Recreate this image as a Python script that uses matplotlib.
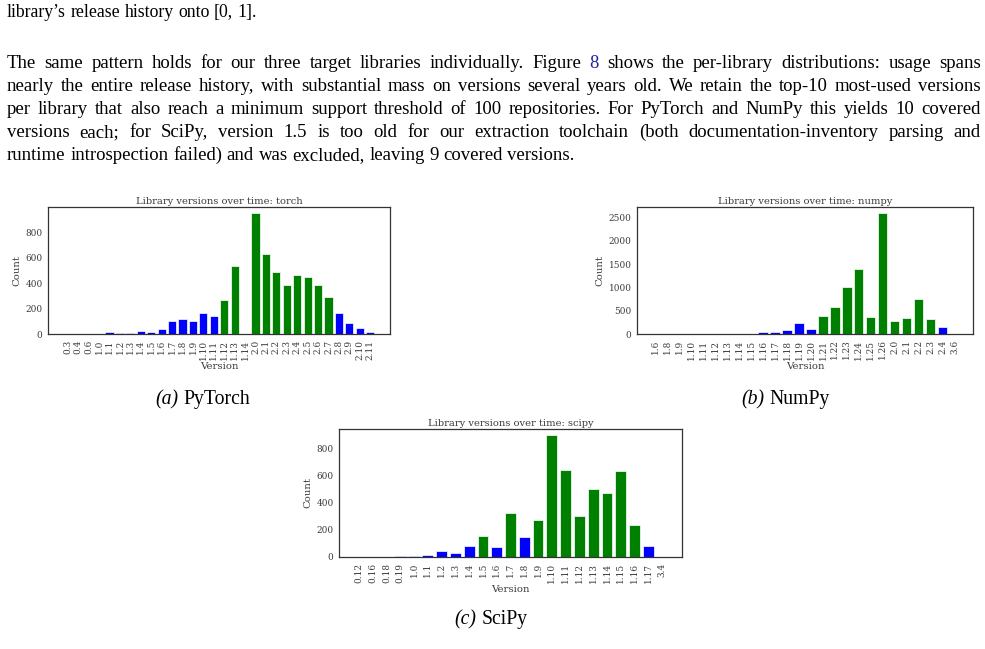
import numpy as np
import matplotlib.pyplot as plt

# data
torch_versions = ['0.3', '0.4', '0.6', '1.0', '1.1', '1.2', '1.3', '1.4', '1.5', '1.6',
                  '1.7', '1.8', '1.9', '1.10', '1.11', '1.12', '1.13', '1.14',
                  '2.0', '2.1', '2.2', '2.3', '2.4', '2.5', '2.6', '2.7', '2.8', '2.9',
                  '2.10', '2.11']
torch_counts = [1, 1, 1, 2, 13, 10, 5, 24, 16, 39,
                105, 118, 105, 168, 144, 265, 538, 0,
                950, 625, 486, 386, 462, 449, 388, 294, 168, 89,
                47, 18]
torch_top10 = ['1.12', '1.13', '2.0', '2.1', '2.2', '2.3', '2.4', '2.5', '2.6', '2.7']

numpy_versions = ['1.6', '1.8', '1.9', '1.10', '1.11', '1.12', '1.13', '1.14', '1.15',
                  '1.16', '1.17', '1.18', '1.19', '1.20', '1.21', '1.22', '1.23', '1.24',
                  '1.25', '1.26', '2.0', '2.1', '2.2', '2.3', '2.4', '3.6']
numpy_counts = [1, 1, 1, 2, 2, 2, 2, 5, 2,
                43, 50, 86, 243, 114, 393, 586, 1007, 1400,
                357, 2593, 271, 350, 743, 314, 157, 1]
numpy_top10 = ['1.21', '1.22', '1.23', '1.24', '1.25', '1.26', '2.0', '2.1', '2.2', '2.3']

scipy_versions = ['0.12', '0.16', '0.18', '0.19', '1.0', '1.1', '1.2', '1.3', '1.4', '1.5',
                  '1.6', '1.7', '1.8', '1.9', '1.10', '1.11', '1.12', '1.13', '1.14',
                  '1.15', '1.16', '1.17', '3.4']
scipy_counts = [1, 1, 1, 5, 10, 17, 47, 27, 84, 156,
                72, 327, 146, 272, 896, 639, 302, 500, 473,
                629, 235, 79, 1]
scipy_top10 = ['1.5', '1.7', '1.9', '1.10', '1.11', '1.12', '1.13', '1.14', '1.15', '1.16']

W, H = 985, 649
fig = plt.figure(figsize=(W / 100, H / 100), dpi=100)
renderer = fig.canvas.get_renderer()

BODY = 'Liberation Serif'
BODY_FS = 13.5
CHART = 'DejaVu Serif'
GRAY = '#3a3a3a'


def px_axes(left, top, right, bottom):
    return fig.add_axes([left / W, 1 - bottom / H, (right - left) / W, (bottom - top) / H])


def bar_panel(ax, versions, counts, top10, name, pad, yticks):
    x = np.arange(len(versions))
    colors = ['green' if v in top10 else 'blue' for v in versions]
    ax.bar(x, counts, width=0.78, color=colors, edgecolor='white', linewidth=0.5)
    ax.set_xticks(x)
    ax.set_xticklabels(versions, rotation=90, family=CHART, fontsize=6.4, color=GRAY)
    ax.set_yticks(yticks)
    ax.set_yticklabels([str(v) for v in yticks], family=CHART, fontsize=6.4, color=GRAY)
    ax.tick_params(axis='both', length=0)
    ax.tick_params(axis='x', pad=4)
    ax.tick_params(axis='y', pad=4)
    ax.set_xlim(-pad, len(x) - 1 + pad)
    ax.set_ylim(0, max(counts) * 1.05)
    ax.set_title('Library versions over time: ' + name, family=CHART, fontsize=7.1,
                 color=GRAY, pad=2.5)
    ax.set_xlabel('Version', family=CHART, fontsize=7.3, color=GRAY, labelpad=1.5)
    ax.set_ylabel('Count', family=CHART, fontsize=7.3, color=GRAY, labelpad=3)
    for s in ax.spines.values():
        s.set_color('#333333')
        s.set_linewidth(0.9)


ax1 = px_axes(48, 207, 390, 334)
bar_panel(ax1, torch_versions, torch_counts, torch_top10, 'torch', 1.9,
          [0, 200, 400, 600, 800])

ax2 = px_axes(637, 207, 973, 334)
bar_panel(ax2, numpy_versions, numpy_counts, numpy_top10, 'numpy', 1.55,
          [0, 500, 1000, 1500, 2000, 2500])

ax3 = px_axes(339, 429, 682, 557)
bar_panel(ax3, scipy_versions, scipy_counts, scipy_top10, 'scipy', 1.45,
          [0, 200, 400, 600, 800])


# body text, placed word by word so the lines are justified
def put_line(words, base_y, fs=BODY_FS, x0=7, x1=981, justify=True):
    texts = []
    for w in words:
        color = 'black'
        if w == '8':
            color = '#2222a0'
        t = fig.text(0, 1 - base_y / H, w, family=BODY, fontsize=fs,
                     color=color, va='baseline', ha='left')
        texts.append(t)
    widths = [t.get_window_extent(renderer).width for t in texts]
    if justify and len(words) > 1:
        gap = (x1 - x0 - sum(widths)) / (len(words) - 1)
    else:
        gap = fs * 1.389 * 0.25
    x = x0
    for t, w in zip(texts, widths):
        t.set_x(x / W)
        x += w + gap


para = [
    'The same pattern holds for our three target libraries individually. Figure 8 shows the per-library distributions: usage spans',
    'nearly the entire release history, with substantial mass on versions several years old. We retain the top-10 most-used versions',
    'per library that also reach a minimum support threshold of 100 repositories. For PyTorch and NumPy this yields 10 covered',
    'versions each; for SciPy, version 1.5 is too old for our extraction toolchain (both documentation-inventory parsing and',
    'runtime introspection failed) and was excluded, leaving 9 covered versions.',
]

put_line('library\u2019s release history onto [0, 1].'.split(), 17, fs=12.8, justify=False)
for i, line in enumerate(para):
    put_line(line.split(), 68 + 23 * i, justify=(i < len(para) - 1))


# sub-captions
CAP_FS = 14.2


def caption(letter, name, cx, base_y):
    a = fig.text(0, 1 - base_y / H, '(' + letter + ')', family=BODY, style='italic',
                 fontsize=CAP_FS, va='baseline', ha='left')
    b = fig.text(0, 1 - base_y / H, name, family=BODY, fontsize=CAP_FS,
                 va='baseline', ha='left')
    wa = a.get_window_extent(renderer).width
    wb = b.get_window_extent(renderer).width
    sp = CAP_FS * 1.389 * 0.25
    x0 = cx - (wa + sp + wb) / 2
    a.set_x(x0 / W)
    b.set_x((x0 + wa + sp) / W)


caption('a', 'PyTorch', 203, 404)
caption('b', 'NumPy', 786, 404)
caption('c', 'SciPy', 491, 624)

fig.savefig('out.png', dpi=100)
